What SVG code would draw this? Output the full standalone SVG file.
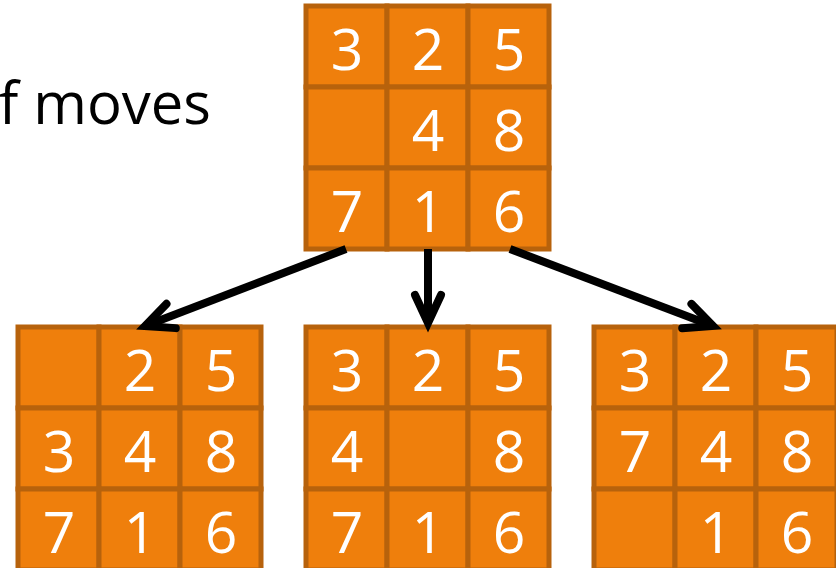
<svg xmlns="http://www.w3.org/2000/svg" width="836" height="568" viewBox="0 0 836 568">
  <style>
    .cell { fill: #EF7F0C; stroke: #B7620C; stroke-width: 5; }
    .num { fill: #FFFFFF; font-family: "Open Sans", "Liberation Sans", sans-serif; font-size: 57px; text-anchor: middle; }
    .label { fill: #000000; font-family: "Open Sans", "Liberation Sans", sans-serif; font-size: 58px; }
    .edge { stroke: #000000; stroke-width: 8; fill: none; }
  </style>
  <defs>
    <marker id="chevron" markerUnits="userSpaceOnUse" viewBox="-34 -20 40 40" refX="0" refY="0" markerWidth="40" markerHeight="40" orient="auto" overflow="visible">
      <path d="M -28 -13 L 0 0 L -28 13" fill="none" stroke="#000000" stroke-width="8" stroke-linecap="round" stroke-linejoin="miter"/>
    </marker>
    <!-- one 3x3 board of 81px tiles -->
    <g id="board">
      <rect class="cell" x="0" y="0" width="81" height="81"/>
      <rect class="cell" x="81" y="0" width="81" height="81"/>
      <rect class="cell" x="162" y="0" width="81" height="81"/>
      <rect class="cell" x="0" y="81" width="81" height="81"/>
      <rect class="cell" x="81" y="81" width="81" height="81"/>
      <rect class="cell" x="162" y="81" width="81" height="81"/>
      <rect class="cell" x="0" y="162" width="81" height="81"/>
      <rect class="cell" x="81" y="162" width="81" height="81"/>
      <rect class="cell" x="162" y="162" width="81" height="81"/>
    </g>
  </defs>

  <text class="label" x="211" y="124" text-anchor="end">f moves</text>

  <g id="root" transform="translate(306,6)">
    <use href="#board"/>
    <text class="num" x="41" y="64">3</text>
    <text class="num" x="122" y="64">2</text>
    <text class="num" x="203" y="64">5</text>
    <text class="num" x="122" y="145">4</text>
    <text class="num" x="203" y="145">8</text>
    <text class="num" x="41" y="226">7</text>
    <text class="num" x="122" y="226">1</text>
    <text class="num" x="203" y="226">6</text>
  </g>

  <g id="child-left" transform="translate(18,327)">
    <use href="#board"/>
    <text class="num" x="122" y="64">2</text>
    <text class="num" x="203" y="64">5</text>
    <text class="num" x="41" y="145">3</text>
    <text class="num" x="122" y="145">4</text>
    <text class="num" x="203" y="145">8</text>
    <text class="num" x="41" y="226">7</text>
    <text class="num" x="122" y="226">1</text>
    <text class="num" x="203" y="226">6</text>
  </g>

  <g id="child-middle" transform="translate(306,327)">
    <use href="#board"/>
    <text class="num" x="41" y="64">3</text>
    <text class="num" x="122" y="64">2</text>
    <text class="num" x="203" y="64">5</text>
    <text class="num" x="41" y="145">4</text>
    <text class="num" x="203" y="145">8</text>
    <text class="num" x="41" y="226">7</text>
    <text class="num" x="122" y="226">1</text>
    <text class="num" x="203" y="226">6</text>
  </g>

  <g id="child-right" transform="translate(594,327)">
    <use href="#board"/>
    <text class="num" x="41" y="64">3</text>
    <text class="num" x="122" y="64">2</text>
    <text class="num" x="203" y="64">5</text>
    <text class="num" x="41" y="145">7</text>
    <text class="num" x="122" y="145">4</text>
    <text class="num" x="203" y="145">8</text>
    <text class="num" x="122" y="226">1</text>
    <text class="num" x="203" y="226">6</text>
  </g>

  <g id="connectors">
    <line class="edge" x1="346" y1="249" x2="145" y2="326" marker-end="url(#chevron)"/>
    <line class="edge" x1="428" y1="249" x2="428" y2="323" marker-end="url(#chevron)"/>
    <line class="edge" x1="510" y1="249" x2="713" y2="326" marker-end="url(#chevron)"/>
  </g>
</svg>
